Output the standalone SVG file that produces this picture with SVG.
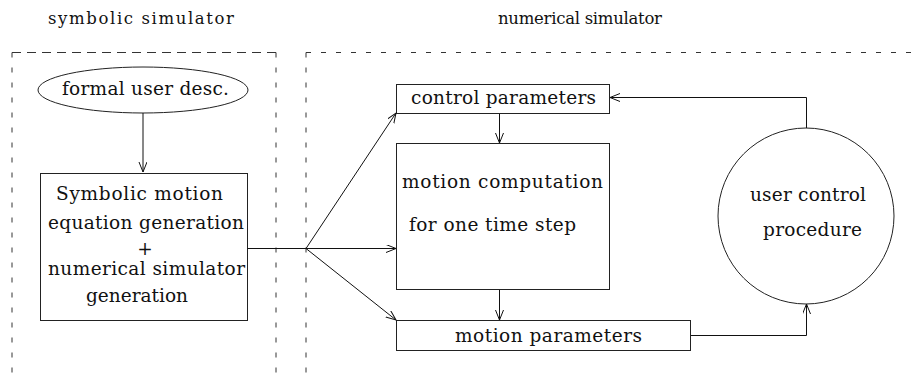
<svg xmlns="http://www.w3.org/2000/svg" width="919" height="376" viewBox="0 0 919 376">
  <style>
    text { font-family: "DejaVu Serif", serif; font-size: 18.5px; fill: #111; }
    text.title { font-size: 16.5px; }
    .box { fill: none; stroke: #222; stroke-width: 1; }
    .dash { fill: none; stroke: #333; stroke-width: 1; stroke-dasharray: 5 10; }
    .edge { fill: none; stroke: #111; stroke-width: 1; }
  </style>
  <defs>
    <marker id="arrow" markerUnits="userSpaceOnUse" markerWidth="12" markerHeight="10" refX="10" refY="4" orient="auto">
      <path d="M0,0 L10,4 L0,8" fill="none" stroke="#111" stroke-width="1"/>
    </marker>
  </defs>

  <rect width="919" height="376" fill="#fff"/>

  <!-- region frames -->
  <g id="symbolic-region">
    <path class="dash" d="M12,52.5 V376"/>
    <path class="dash" d="M12,52.5 H276"/>
    <path class="dash" d="M276,52.5 H12"/>
    <path class="dash" d="M276,52.5 V376"/>
    <text class="title" x="48" y="24" textLength="186">symbolic simulator</text>
  </g>
  <g id="numerical-region">
    <path class="dash" d="M306,52.5 V376"/>
    <path class="dash" d="M306,52.5 H919"/>
    <text class="title" x="498" y="24" textLength="164">numerical simulator</text>
  </g>

  <!-- nodes -->
  <g id="formal-desc">
    <ellipse class="box" cx="143" cy="90" rx="105" ry="23"/>
    <text x="62" y="95" textLength="167">formal user desc.</text>
  </g>
  <g id="symbolic-generation">
    <rect class="box" x="40.5" y="173.5" width="207" height="147"/>
    <text x="56" y="200" textLength="167">Symbolic motion</text>
    <text x="48" y="229" textLength="196">equation generation</text>
    <text x="145" y="255" text-anchor="middle" font-size="21" font-weight="300">+</text>
    <text x="48" y="275" textLength="197">numerical simulator</text>
    <text x="86" y="302" textLength="102">generation</text>
  </g>
  <g id="control-parameters">
    <rect class="box" x="396.5" y="84.5" width="213" height="29"/>
    <text x="411" y="104" textLength="185">control parameters</text>
  </g>
  <g id="motion-computation">
    <rect class="box" x="396.5" y="143.5" width="213" height="146"/>
    <text x="402" y="188" textLength="201">motion computation</text>
    <text x="409" y="231" textLength="167">for one time step</text>
  </g>
  <g id="motion-parameters">
    <rect class="box" x="396.5" y="320.5" width="294" height="30"/>
    <text x="455" y="342" textLength="187">motion parameters</text>
  </g>
  <g id="user-control">
    <circle class="box" cx="806" cy="216" r="88"/>
    <text x="750" y="201" textLength="116">user control</text>
    <text x="763" y="236" textLength="99">procedure</text>
  </g>

  <!-- connectors -->
  <g id="connectors">
    <path class="edge" d="M143,113 V172" marker-end="url(#arrow)"/>
    <path class="edge" d="M247.5,248.5 H306"/>
    <path class="edge" d="M306,248.5 L396,113" marker-end="url(#arrow)"/>
    <path class="edge" d="M306,248.5 H396" marker-end="url(#arrow)"/>
    <path class="edge" d="M306,248.5 L396,320" marker-end="url(#arrow)"/>
    <path class="edge" d="M499.5,114 V143" marker-end="url(#arrow)"/>
    <path class="edge" d="M499.5,290 V320" marker-end="url(#arrow)"/>
    <path class="edge" d="M806.5,128 V97.5 H610" marker-end="url(#arrow)"/>
    <path class="edge" d="M691,335.5 H806.5 V304" marker-end="url(#arrow)"/>
  </g>
</svg>
